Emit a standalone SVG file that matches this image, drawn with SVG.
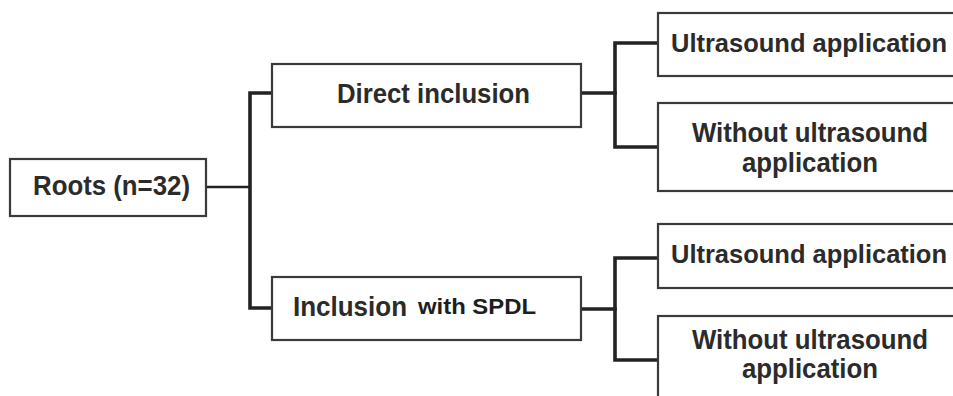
<svg xmlns="http://www.w3.org/2000/svg" width="953" height="396" viewBox="0 0 953 396">
<style>
.box{fill:#fff;stroke:#3a3a3a;stroke-width:2.2}
.t{font-family:"Liberation Sans",Arial,sans-serif;font-weight:bold;fill:#2b2b2b;font-size:27px;text-anchor:middle}
.u{font-size:25.5px}
.s{font-size:22px;fill:#1e1e1e}
.c{fill:none;stroke:#222;stroke-width:3.6;stroke-linecap:square;stroke-linejoin:miter}
.c2{fill:none;stroke:#222;stroke-width:2.4}
</style>
<rect width="953" height="396" fill="#fff"/>
<g id="connectors">
<line class="c2" x1="190" y1="187" x2="250" y2="187"/>
<path class="c" d="M272 93 H250 V308 H272"/>
<path class="c" d="M581 93 H615"/>
<path class="c" d="M658 43 H615 V147 H658"/>
<path class="c" d="M581 309 H615"/>
<path class="c" d="M658 258 H615 V360 H658"/>
</g>
<g id="root">
<rect class="box" x="10" y="159" width="196" height="57"/>
<text class="t" x="111.5" y="195" textLength="157" lengthAdjust="spacingAndGlyphs">Roots (n=32)</text>
</g>
<g id="direct">
<rect class="box" x="272" y="64" width="309" height="63"/>
<text class="t" x="433.5" y="103" textLength="193" lengthAdjust="spacingAndGlyphs">Direct inclusion</text>
</g>
<g id="spdl">
<rect class="box" x="272" y="277" width="309" height="63"/>
<text class="t" x="350" y="316" textLength="114" lengthAdjust="spacingAndGlyphs">Inclusion</text>
<text class="t s" x="477" y="314" textLength="118" lengthAdjust="spacingAndGlyphs">with SPDL</text>
</g>
<g id="us1">
<rect class="box" x="658" y="13" width="310" height="63"/>
<text class="t u" x="809" y="52" textLength="276" lengthAdjust="spacingAndGlyphs">Ultrasound application</text>
</g>
<g id="nous1">
<rect class="box" x="658" y="103" width="310" height="88"/>
<text class="t" x="810" y="142" textLength="236" lengthAdjust="spacingAndGlyphs">Without ultrasound</text>
<text class="t" x="810" y="172" textLength="136" lengthAdjust="spacingAndGlyphs">application</text>
</g>
<g id="us2">
<rect class="box" x="658" y="224" width="310" height="64"/>
<text class="t u" x="809" y="263" textLength="276" lengthAdjust="spacingAndGlyphs">Ultrasound application</text>
</g>
<g id="nous2">
<rect class="box" x="658" y="316" width="310" height="100"/>
<text class="t" x="810" y="349" textLength="236" lengthAdjust="spacingAndGlyphs">Without ultrasound</text>
<text class="t" x="810" y="378" textLength="136" lengthAdjust="spacingAndGlyphs">application</text>
</g>
</svg>
